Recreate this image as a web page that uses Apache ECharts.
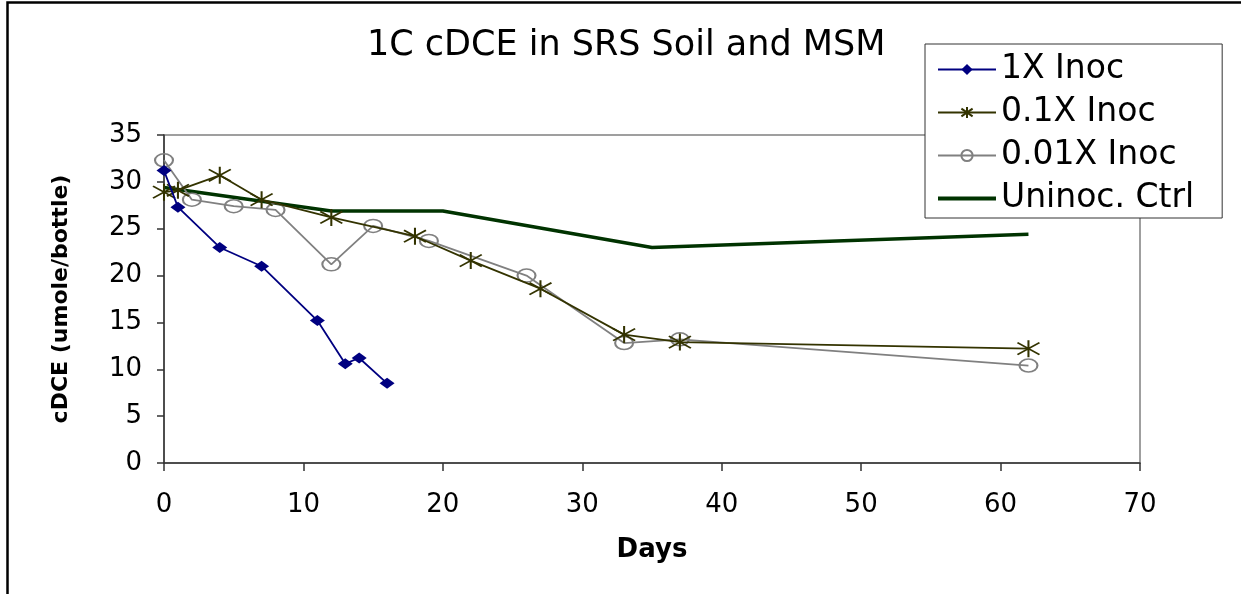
<!DOCTYPE html>
<html>
<head>
<meta charset="utf-8">
<script src="https://cdn.jsdelivr.net/npm/echarts@6/dist/echarts.min.js"></script>
<style>
  html, body { margin: 0; padding: 0; background: #fff; }
  #chart { width: 1241px; height: 594px; }
</style>
</head>
<body>
<div id="chart"></div>
<script>
// days and cDCE (umole/bottle) per series
var days1x = [0, 1, 4, 7, 11, 13, 14, 16];
var vals1x = [31.2, 27.3, 23.0, 21.0, 15.2, 10.6, 11.2, 8.5];

var days01x = [0, 1, 4, 7, 12, 18, 22, 27, 33, 37, 62];
var vals01x = [28.9, 29.1, 30.7, 28.1, 26.2, 24.2, 21.6, 18.6, 13.7, 12.9, 12.2];

var days001x = [0, 2, 5, 8, 12, 15, 19, 26, 33, 37, 62];
var vals001x = [32.3, 28.1, 27.4, 27.0, 21.2, 25.3, 23.7, 20.0, 12.8, 13.2, 10.4];

var daysCtrl = [0, 12, 20, 35, 62];
var valsCtrl = [29.4, 26.9, 26.9, 23.0, 24.4];

var seriesNames = ['1X Inoc', '0.1X Inoc', '0.01X Inoc', 'Uninoc. Ctrl'];

function pairs(xs, ys) {
  return xs.map(function (x, i) { return [x, ys[i]]; });
}

var font = 'DejaVu Sans';
var starPath = 'path://M10,0L10,20M0,3L20,17M0,17L20,3';

var chart = echarts.init(document.getElementById('chart'));
var option = {
  backgroundColor: '#fff',
  animation: false,
  graphic: [{
    type: 'rect',
    shape: { x: 7.5, y: 2.5, width: 1400, height: 800 },
    style: { fill: 'none', stroke: '#000', lineWidth: 2.5 }
  }],
  title: {
    text: '1C cDCE in SRS Soil and MSM',
    left: 362,
    top: 23,
    textStyle: { fontFamily: font, fontSize: 35, fontWeight: 'normal', color: '#000' }
  },
  legend: {
    orient: 'vertical',
    left: 925,
    top: 44,
    padding: [9, 28, 3, 12],
    itemWidth: 58,
    itemHeight: 14,
    itemGap: 10,
    itemTextGap: 10,
    borderColor: '#333',
    borderWidth: 1,
    backgroundColor: '#fff',
    textStyle: { fontFamily: font, fontSize: 33, color: '#000' },
    data: [
      { name: seriesNames[0] },
      { name: seriesNames[1] },
      { name: seriesNames[2] },
      { name: seriesNames[3], icon: 'path://M0,0H60V4H0Z' }
    ]
  },
  grid: {
    left: 164,
    right: 101,
    top: 135,
    bottom: 131,
    show: true,
    borderColor: '#808080',
    borderWidth: 1.5,
    backgroundColor: '#fff'
  },
  xAxis: {
    type: 'value',
    min: 0,
    max: 70,
    interval: 10,
    name: 'Days',
    nameLocation: 'middle',
    nameGap: 74,
    nameTextStyle: { fontFamily: font, fontSize: 26, fontWeight: 'bold', color: '#000' },
    axisLine: { lineStyle: { color: '#333', width: 1.5 } },
    axisTick: { length: 8, lineStyle: { color: '#333', width: 1.5 } },
    axisLabel: { fontFamily: font, fontSize: 26, color: '#000', margin: 29 },
    splitLine: { show: false }
  },
  yAxis: {
    type: 'value',
    min: 0,
    max: 35,
    interval: 5,
    name: 'cDCE (umole/bottle)',
    nameLocation: 'middle',
    nameGap: 92,
    nameTextStyle: { fontFamily: font, fontSize: 22, fontWeight: 'bold', color: '#000' },
    axisLine: { lineStyle: { color: '#333', width: 1.5 } },
    axisTick: { length: 7, lineStyle: { color: '#333', width: 1.5 } },
    axisLabel: { fontFamily: font, fontSize: 26, color: '#000', margin: 22 },
    splitLine: { show: false }
  },
  series: [
    {
      name: seriesNames[0],
      type: 'line',
      data: pairs(days1x, vals1x),
      symbol: 'diamond',
      symbolSize: [15, 11],
      color: '#000080',
      lineStyle: { color: '#000080', width: 1.8 },
      itemStyle: { color: '#000080' },
      z: 5
    },
    {
      name: seriesNames[1],
      type: 'line',
      data: pairs(days01x, vals01x),
      symbol: starPath,
      symbolSize: [22, 17],
      color: '#333300',
      lineStyle: { color: '#333300', width: 1.8 },
      itemStyle: { color: '#333300', borderColor: '#333300', borderWidth: 1.8 },
      z: 4
    },
    {
      name: seriesNames[2],
      type: 'line',
      data: pairs(days001x, vals001x),
      symbol: 'circle',
      symbolSize: [18, 13],
      color: '#808080',
      lineStyle: { color: '#808080', width: 1.8 },
      itemStyle: { color: 'rgba(255,255,255,0)', borderColor: '#808080', borderWidth: 1.8 },
      z: 3
    },
    {
      name: seriesNames[3],
      type: 'line',
      data: pairs(daysCtrl, valsCtrl),
      symbol: 'none',
      color: '#003300',
      lineStyle: { color: '#003300', width: 3.5 },
      itemStyle: { color: '#003300' },
      z: 2
    }
  ]
};
chart.setOption(option);
</script>
</body>
</html>
